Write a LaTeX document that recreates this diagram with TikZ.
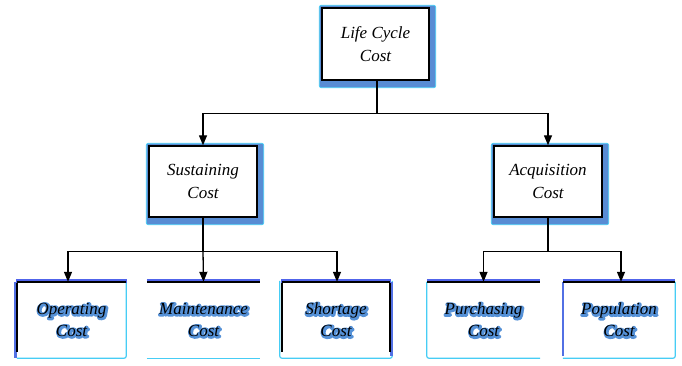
\documentclass[tikz,border=0pt]{standalone}
\usepackage{fontspec}
\setmainfont{Liberation Serif}
\usetikzlibrary{arrows.meta,calc,backgrounds}
\definecolor{shadowc}{RGB}{88,140,212}
\definecolor{edgeb}{RGB}{80,100,235}
\definecolor{edgec}{RGB}{70,205,245}
\definecolor{glowc}{RGB}{85,145,215}
\newcommand\glowword[1]{\rlap{\hspace*{0.8pt}\raisebox{-0.8pt}{\special{pdf:code q 1 j 1 J 3.4 w 0.333 0.569 0.843 RG 2 Tr}\textcolor{glowc}{#1}\special{pdf:code 0 Tr Q}}}#1}
\tikzset{
  upbox/.style={draw=black, line width=1.4pt, fill=white, align=center, inner sep=0pt,
    font=\fontsize{17}{23}\selectfont\itshape},
  lowbox/.style={fill=white, align=center, inner sep=0pt, minimum height=76pt,
    font=\fontsize{17}{22}\selectfont\itshape},
  conn/.style={line width=1.3pt, black},
  arr/.style={conn, -{Triangle[width=8pt,length=10pt]}},
  topedge/.style={line width=1.5pt, black},
  topband/.style={line width=4pt, edgeb},
  sideblack/.style={line width=1.5pt, black},
  cyanedge/.style={line width=1.2pt, edgec, rounded corners=2pt},
  blueedge/.style={line width=2.5pt, edgeb!70!shadowc},
}
\begin{document}
\begin{tikzpicture}[x=1pt,y=-1pt]
\useasboundingbox (0,0) rectangle (682,365);
% upper boxes
\node[upbox, minimum width=107pt, minimum height=72pt] (lcc) at (375.5,44) {Life Cycle\\Cost};
\node[upbox, minimum width=108pt, minimum height=71pt] (sus) at (203,181.5) {Sustaining\\Cost};
\node[upbox, minimum width=108pt, minimum height=71pt] (acq) at (548,181.5) {Acquisition\\Cost};
% lower boxes
\node[lowbox, minimum width=109pt] (op) at (71.5,320) {\glowword{Operating}\\\glowword{Cost}};
\node[lowbox, minimum width=113pt] (mt) at (203.5,320) {\glowword{Maintenance}\\\glowword{Cost}};
\node[lowbox, minimum width=108pt] (sh) at (336,320) {\glowword{Shortage}\\\glowword{Cost}};
\node[lowbox, minimum width=113pt] (pu) at (483.5,320) {\glowword{Purchasing}\\\glowword{Cost}};
\node[lowbox, minimum width=112pt] (po) at (619,320) {\glowword{Population}\\\glowword{Cost}};
% shadows of upper boxes
\begin{pgfonlayer}{background}
\foreach \n in {lcc,sus,acq}{
  \fill[shadowc, draw=edgec, line width=0.8pt, rounded corners=2pt]
    ($(\n.north west)+(-2,-2)$) rectangle ($(\n.south east)+(6,7)$);
}
\end{pgfonlayer}
% lower box edges
% Operating
\draw[cyanedge] (op.north east) -- (op.south east) -- (op.south west);
\draw[blueedge] ($(op.north west)+(-1.5,0)$) -- ($(op.south west)+(-1.5,0)$);
\draw[sideblack] (op.north west) -- ($(op.south west)+(0,-6)$);
\draw[topband] ($(op.north west)+(-1,-1)$) -- ($(op.north east)+(1,-1)$);
\draw[topedge] (op.north west) -- (op.north east);
% Maintenance
\draw[cyanedge] (mt.south west) -- (mt.south east);
\draw[topband] ($(mt.north west)+(0,-1)$) -- ($(mt.north east)+(0,-1)$);
\draw[topedge] (mt.north west) -- (mt.north east);
% Shortage
\draw[cyanedge] ($(sh.north west)+(-2,-1)$) -- ($(sh.south west)+(-2,0)$) -- ($(sh.south east)+(2,0)$) -- ($(sh.north east)+(2,-1)$);
\draw[blueedge] ($(sh.north east)+(1.5,0)$) -- ($(sh.south east)+(1.5,-2)$);
\draw[sideblack] (sh.north west) -- ($(sh.south west)+(0,-6)$);
\draw[sideblack] (sh.north east) -- ($(sh.south east)+(0,-6)$);
\draw[topband] ($(sh.north west)+(-1,-1)$) -- ($(sh.north east)+(1,-1)$);
\draw[topedge] (sh.north west) -- (sh.north east);
% Purchasing
\draw[cyanedge] (pu.north west) -- (pu.south west) -- (pu.south east);
\draw[topband] ($(pu.north west)+(0,-1)$) -- ($(pu.north east)+(0,-1)$);
\draw[topedge] (pu.north west) -- (pu.north east);
% Population
\draw[cyanedge] (po.north east) -- (po.south east) -- (po.south west);
\draw[blueedge] (po.north west) -- ($(po.south west)+(0,-2)$);
\draw[topband] ($(po.north west)+(0,-1)$) -- ($(po.north east)+(0,-1)$);
\draw[topedge] (po.north west) -- (po.north east);
% connectors
\coordinate (j0) at ($(lcc.south)+(1.5,33)$);
\draw[conn] ($(lcc.south)+(1.5,0)$) -- (j0);
\draw[arr] (j0) -| (sus.north);
\draw[arr] (j0) -| (acq.north);
\coordinate (j1) at ($(sus.south)+(0,33.5)$);
\draw[conn] (sus.south) -- (j1);
\draw[arr] (j1) -| ($(op.north)+(-3.5,0)$);
\draw[arr] (j1) -- (mt.north);
\draw[arr] (j1) -| ($(sh.north)+(1,0)$);
\coordinate (j2) at ($(acq.south)+(0,33.5)$);
\draw[conn] (acq.south) -- (j2);
\draw[arr] (j2) -| (pu.north);
\draw[arr] (j2) -| ($(po.north)+(2,0)$);
\end{tikzpicture}
\end{document}
